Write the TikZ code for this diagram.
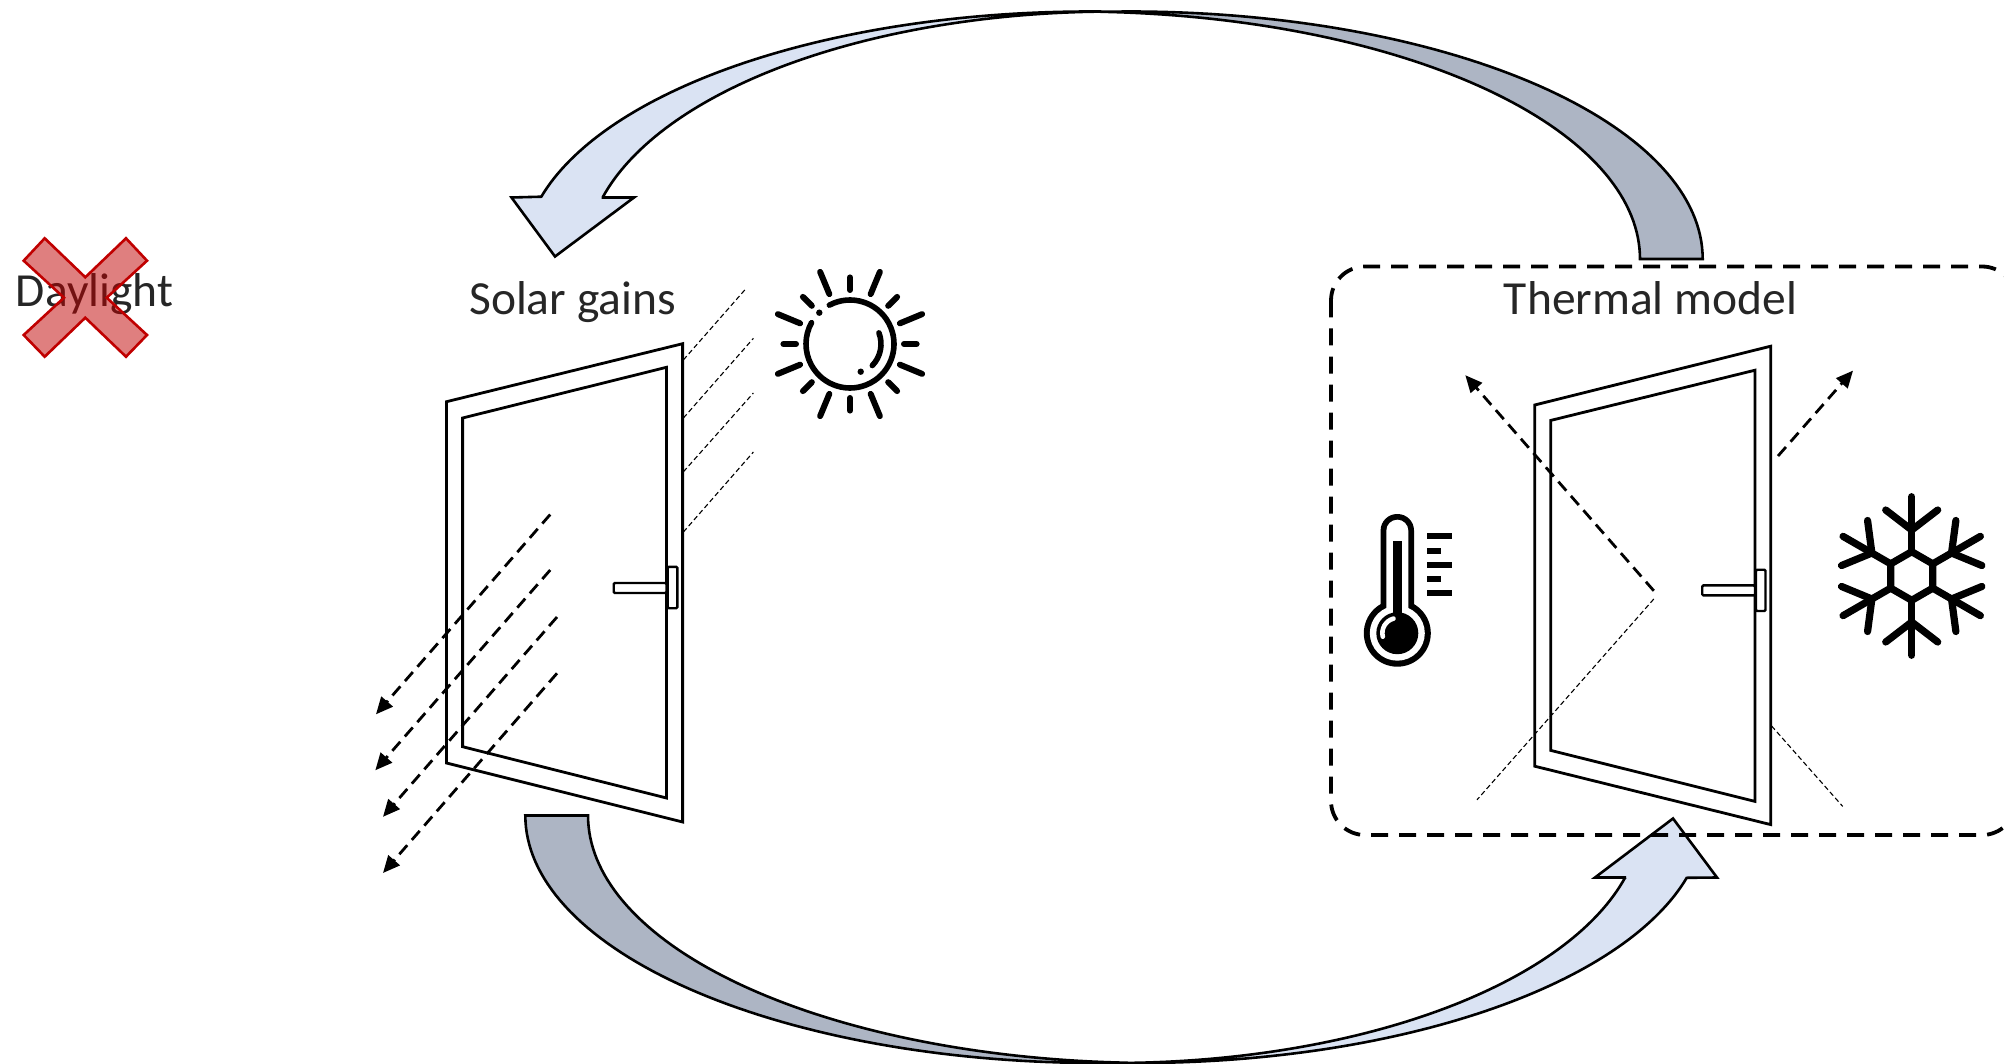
\documentclass[tikz,border=0pt]{standalone}
\usepackage{fontspec}
\setmainfont{Carlito}
\usetikzlibrary{arrows.meta}
\definecolor{bluefill}{HTML}{DAE3F3}
\definecolor{grayfill}{HTML}{ADB5C4}
\definecolor{xred}{HTML}{C00000}
\definecolor{txt}{HTML}{262626}
\tikzset{
  label text/.style={font=\fontsize{47.5}{47.5}\selectfont,text=txt,anchor=base,inner sep=0pt},
  band/.style={draw=black,line width=2.6pt,line join=miter,miter limit=4},
  frameline/.style={draw=black,line width=2.8pt,line join=miter},
  handleline/.style={draw=black,line width=2.4pt,fill=white,rounded corners=1.2pt},
  beam/.style={draw=black,line width=1.1pt,dash pattern=on 5pt off 3pt},
  ray arrow/.style={draw=black,line width=2.8pt,dash pattern=on 12pt off 7pt,-{Triangle[length=17pt,width=15pt]}},
  box line/.style={draw=black,line width=3.8pt,dash pattern=on 17pt off 11pt,rounded corners=34pt},
  icon line/.style={draw=black,line width=6pt,line cap=round},
  flake line/.style={draw=black,line width=7.2pt,line cap=round,line join=round},
}
\begin{document}
\begin{tikzpicture}[x=1pt,y=-1pt]
\useasboundingbox (0,0) rectangle (2004,1064);
% text under the cross
\node[label text] (daylight) at (94.5,307) {Daylight};
\node[label text] (solar) at (572.5,315) {Solar gains};
\node[label text] (thermal) at (1650.5,315) {Thermal model};
% red cross
\draw[draw=xred,line width=2.6pt,fill=xred,fill opacity=0.5,line join=miter]
 (44.7,238.3) -- (85.3,277.3) -- (126,238.3) -- (147,260.7) -- (106.7,297.7) -- (147,335)
 -- (126,356.7) -- (85.3,317.7) -- (44.7,356.7) -- (23.7,335) -- (64,297.7) -- (23.7,260.7) -- cycle;
% top curved arrow
\draw[band,fill=grayfill] plot[domain=0:92.9,samples=70] ({1130+572.7*cos(\x)},{259-247.5*sin(\x)})
 -- plot[domain=87.4:0,samples=70] ({1075+565*cos(\x)},{259-247.5*sin(\x)}) -- cycle;
\draw[band,fill=bluefill] plot[domain=91.1:14.58,samples=70] ({1090-567*cos(\x)},{259-247.5*sin(\x)})
 -- (511.5,197.5) -- (555,256.5) -- (634,197.5) -- (603,197.5)
 -- plot[domain=14.58:88.6,samples=70] ({1114-528*cos(\x)},{259-247.5*sin(\x)}) -- cycle;
% bottom curved arrow
\draw[band,fill=grayfill] plot[domain=0:92.9,samples=70] ({1098-572.7*cos(\x)},{815.5+247.5*sin(\x)})
 -- plot[domain=87.4:0,samples=70] ({1153-565*cos(\x)},{815.5+247.5*sin(\x)}) -- cycle;
\draw[band,fill=bluefill] plot[domain=91.1:14.58,samples=70] ({1138+567*cos(\x)},{815.5+247.5*sin(\x)})
 -- (1717,877.5) -- (1673,818.5) -- (1595,877.5) -- (1626,877.5)
 -- plot[domain=14.58:88.6,samples=70] ({1114+528*cos(\x)},{815.5+247.5*sin(\x)}) -- cycle;
% dashed model box
\begin{scope}
\clip (0,0) rectangle (2004,1064);
\draw[box line] (1331,266.5) rectangle (2016,835);
\end{scope}
% left door
\draw[frameline] (446.5,401.7) -- (682.6,343.7) -- (682.6,822) -- (446.5,763) -- cycle;
\draw[frameline] (462.6,418) -- (666.5,367.3) -- (666.5,798) -- (462.6,746.7) -- cycle;
\draw[handleline] (667.7,566.8) rectangle (677.3,608.2);
\draw[handleline] (613.7,583) rectangle (666.5,593);
% right door
\draw[frameline] (1534.7,405) -- (1770.7,346.2) -- (1770.7,824.6) -- (1534.7,766.2) -- cycle;
\draw[frameline] (1550.8,420.4) -- (1755,370.2) -- (1755,801.4) -- (1550.8,750.4) -- cycle;
\draw[handleline] (1755.9,569.7) rectangle (1765.5,611);
\draw[handleline] (1702.2,585.4) rectangle (1755,595.4);
% beams, left door
\coordinate (ba1) at (683.4,359.9); \coordinate (bb1) at (746.5,288);
\coordinate (ba2) at (683.4,418);   \coordinate (bb2) at (753.4,338.3);
\coordinate (ba3) at (683.4,471.8); \coordinate (bb3) at (753.4,393);
\coordinate (ba4) at (683.4,532);   \coordinate (bb4) at (753.4,452);
\foreach \i in {1,2,3,4} \draw[beam] (ba\i) -- (bb\i);
\coordinate (ra1) at (550.2,514.5); \coordinate (rb1) at (376,714.3);
\coordinate (ra2) at (550.2,570);   \coordinate (rb2) at (375.3,770.3);
\coordinate (ra3) at (557,617);     \coordinate (rb3) at (383,816.8);
\coordinate (ra4) at (557,673.3);   \coordinate (rb4) at (383,873);
\foreach \i in {1,2,3,4} \draw[ray arrow] (ra\i) -- (rb\i);
% beams, right door
\coordinate (ta1) at (1653.8,590.8); \coordinate (tb1) at (1465.3,375.2);
\coordinate (ta2) at (1778,456);     \coordinate (tb2) at (1853,370.6);
\draw[ray arrow] (ta1) -- (tb1);
\draw[ray arrow] (ta2) -- (tb2);
\coordinate (tc1) at (1653.8,599);   \coordinate (td1) at (1477,799.8);
\coordinate (tc2) at (1771.6,726);   \coordinate (td2) at (1842.7,806.4);
\draw[beam] (tc1) -- (td1);
\draw[beam] (tc2) -- (td2);
% sun
\begin{scope}[shift={(850,344)}]
\foreach \a in {0,90,180,270,45,135,225,315} \draw[icon line] (\a:54) -- (\a:66.6);
\foreach \a in {22.5,67.5,112.5,157.5,202.5,247.5,292.5,337.5} \draw[icon line] (\a:54) -- (\a:78);
\draw[icon line,line width=5.6pt] (-118:44) arc[start angle=-118,end angle=209,radius=44];
\draw[icon line,line width=5.6pt] (-21:31) arc[start angle=-21,end angle=44,radius=31];
\fill (-30.7,-31.3) circle[radius=3.2];
\fill (10.7,27.7) circle[radius=3.2];
\end{scope}
% thermometer
\begin{scope}[shift={(1397.3,631.7)}]
\fill[black,rounded corners=16.5pt] (-16.7,-117.7) rectangle (16.7,-5);
\fill[black] (0,1.5) circle[radius=33.5];
\fill[white,rounded corners=11pt] (-11,-112) rectangle (11,-5);
\fill[white] (0,1.5) circle[radius=27.5];
\fill[black] (-4.2,-91) rectangle (4.2,-5);
\fill[black] (0,1.5) circle[radius=21];
\draw[white,line width=4.6pt,line cap=round] (-14.5,5) arc[start angle=166,end angle=255,radius=15];
\fill[black] (29.4,-98.4) rectangle (54.4,-92.4);
\fill[black] (29.4,-84) rectangle (43.7,-78);
\fill[black] (29.4,-69.7) rectangle (54.4,-63.7);
\fill[black] (29.4,-55.4) rectangle (43.7,-49.4);
\fill[black] (29.4,-41.4) rectangle (54.4,-35.4);
\end{scope}
% snowflake
\begin{scope}[shift={(1911.7,576)}]
\draw[flake line,line cap=butt] (90:24.3) -- (30:24.3) -- (-30:24.3) -- (-90:24.3) -- (-150:24.3) -- (150:24.3) -- cycle;
\foreach \r in {0,60,120,180,240,300}{
  \begin{scope}[rotate=\r]
  \draw[flake line] (0,-24.3) -- (0,-79.3);
  \draw[flake line] (-26,-66) -- (0,-46) -- (26,-66);
  \end{scope}
}
\end{scope}
\end{tikzpicture}
\end{document}
